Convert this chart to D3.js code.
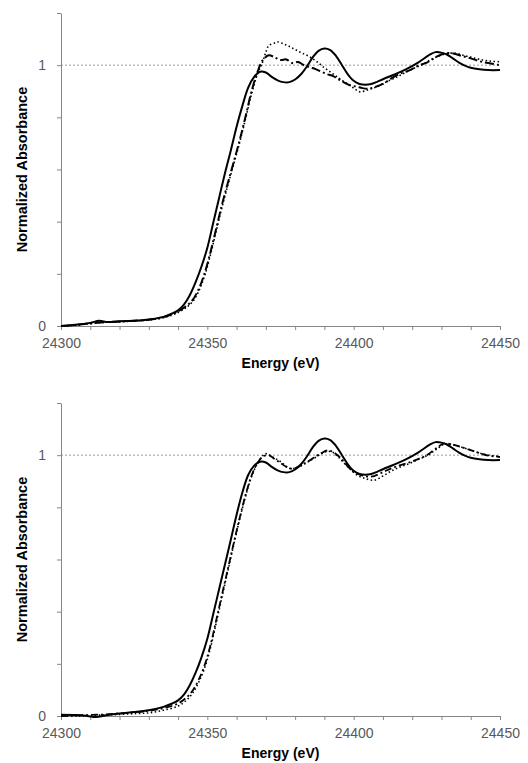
<!DOCTYPE html>
<html lang="en">
<head>
    <meta charset="utf-8">
    <script src="https://cdn.jsdelivr.net/npm/d3@7"></script>
    <style type="text/css">
        body { margin: 0; background: white; }
        .axis path,
        .axis line {
            fill: none;
            stroke: #868686;
        }
        .axis text {
            font-family: "Liberation Sans", Arial, sans-serif;
            font-size: 14px;
            fill: #595959;
        }
        .title {
            font-family: "Liberation Sans", Arial, sans-serif;
            font-size: 14px;
            font-weight: bold;
            fill: black;
        }
    </style>
</head>
<body>
<script>
// [energy eV, normalized absorbance]
const topSolid = [
    [24300,0.000],[24305,0.005],[24310,0.012],[24313,0.020],[24316,0.015],[24320,0.018],
    [24325,0.020],[24330,0.025],[24335,0.035],[24338,0.048],[24340,0.060],[24342,0.082],
    [24344,0.118],[24346,0.168],[24348,0.228],[24350,0.300],[24352,0.395],[24354,0.490],
    [24356,0.585],[24358,0.672],[24360,0.764],[24362,0.845],[24364,0.915],[24366,0.955],
    [24368,0.975],[24370,0.972],[24372,0.955],[24374,0.942],[24376,0.935],[24378,0.935],
    [24380,0.945],[24382,0.965],[24384,0.995],[24386,1.030],[24388,1.055],[24390,1.064],
    [24392,1.058],[24394,1.035],[24396,1.000],[24398,0.965],[24400,0.940],[24402,0.928],
    [24404,0.925],[24406,0.928],[24408,0.936],[24410,0.946],[24414,0.965],[24418,0.985],
    [24422,1.010],[24426,1.040],[24428,1.050],[24430,1.048],[24432,1.040],[24434,1.025],
    [24436,1.010],[24438,0.998],[24440,0.990],[24443,0.984],[24446,0.981],[24450,0.981]
];
const topDashed = [
    [24300,0.000],[24305,0.004],[24310,0.010],[24315,0.015],[24320,0.017],[24325,0.020],
    [24330,0.024],[24335,0.034],[24340,0.056],[24343,0.078],[24345,0.100],[24347,0.140],
    [24349,0.200],[24351,0.280],[24353,0.372],[24355,0.465],[24357,0.548],[24359,0.628],
    [24361,0.710],[24363,0.800],[24365,0.895],[24367,0.970],[24369,1.020],[24371,1.038],
    [24373,1.030],[24375,1.020],[24377,1.022],[24379,1.008],[24381,1.012],[24383,1.000],
    [24385,0.992],[24387,0.985],[24389,0.975],[24391,0.965],[24393,0.958],[24395,0.945],
    [24397,0.932],[24399,0.922],[24401,0.918],[24403,0.912],[24405,0.910],[24407,0.915],
    [24410,0.928],[24413,0.950],[24416,0.968],[24419,0.980],[24422,0.998],[24425,1.010],
    [24428,1.030],[24431,1.045],[24434,1.045],[24437,1.035],[24440,1.026],[24443,1.015],
    [24446,1.008],[24450,1.000]
];
const topDotted = [
    [24302,0.000],[24306,0.004],[24310,0.009],[24315,0.014],[24320,0.016],[24325,0.019],
    [24330,0.023],[24335,0.032],[24340,0.052],[24343,0.073],[24345,0.094],[24347,0.132],
    [24349,0.190],[24351,0.270],[24353,0.362],[24355,0.455],[24357,0.540],[24359,0.620],
    [24361,0.702],[24363,0.792],[24365,0.885],[24367,0.962],[24369,1.015],[24370,1.050],
    [24371,1.075],[24373,1.085],[24374,1.089],[24376,1.082],[24378,1.072],[24380,1.060],
    [24382,1.048],[24384,1.038],[24386,1.025],[24388,1.008],[24390,0.990],[24392,0.974],
    [24394,0.958],[24396,0.942],[24398,0.928],[24400,0.912],[24402,0.898],[24404,0.902],
    [24406,0.910],[24408,0.917],[24411,0.935],[24414,0.950],[24417,0.968],[24420,0.985],
    [24423,1.000],[24426,1.019],[24429,1.035],[24432,1.045],[24435,1.045],[24438,1.036],
    [24441,1.028],[24444,1.020],[24447,1.015],[24450,1.013]
];

const bottomSolid = [
    [24300,0.005],[24305,0.004],[24309,0.000],[24312,-0.004],[24315,0.002],[24320,0.010],
    [24325,0.015],[24330,0.022],[24335,0.035],[24338,0.048],[24340,0.060],[24342,0.082],
    [24344,0.118],[24346,0.166],[24348,0.225],[24350,0.296],[24352,0.390],[24354,0.485],
    [24356,0.580],[24358,0.675],[24360,0.772],[24362,0.858],[24364,0.925],[24366,0.960],
    [24368,0.975],[24370,0.972],[24372,0.955],[24374,0.942],[24376,0.935],[24378,0.935],
    [24380,0.945],[24382,0.965],[24384,0.995],[24386,1.030],[24388,1.055],[24390,1.064],
    [24392,1.058],[24394,1.035],[24396,1.000],[24398,0.965],[24400,0.940],[24402,0.928],
    [24404,0.925],[24406,0.928],[24408,0.936],[24410,0.946],[24414,0.965],[24418,0.985],
    [24422,1.010],[24426,1.040],[24428,1.050],[24430,1.048],[24432,1.040],[24434,1.025],
    [24436,1.010],[24438,0.998],[24440,0.990],[24443,0.984],[24446,0.981],[24450,0.981]
];
const bottomDashDot = [
    [24300,0.000],[24305,0.002],[24310,0.004],[24315,0.006],[24320,0.010],[24325,0.014],
    [24330,0.020],[24335,0.030],[24340,0.048],[24343,0.072],[24345,0.098],[24347,0.138],
    [24349,0.192],[24351,0.268],[24353,0.365],[24355,0.465],[24357,0.563],[24359,0.662],
    [24361,0.757],[24363,0.845],[24365,0.918],[24367,0.968],[24369,0.995],[24371,1.000],
    [24373,0.985],[24375,0.970],[24377,0.955],[24379,0.948],[24381,0.955],[24383,0.968],
    [24385,0.980],[24387,0.995],[24389,1.008],[24391,1.018],[24393,1.012],[24395,0.995],
    [24397,0.970],[24399,0.945],[24401,0.930],[24403,0.922],[24405,0.918],[24407,0.920],
    [24410,0.935],[24413,0.950],[24416,0.962],[24419,0.972],[24422,0.985],[24425,1.000],
    [24428,1.025],[24431,1.045],[24434,1.040],[24437,1.030],[24440,1.019],[24443,1.008],
    [24446,0.998],[24450,0.993]
];
const bottomDotted = [
    [24302,0.000],[24306,0.000],[24310,0.002],[24315,0.004],[24320,0.006],[24325,0.009],
    [24330,0.012],[24335,0.022],[24340,0.038],[24343,0.062],[24345,0.088],[24347,0.128],
    [24349,0.182],[24351,0.258],[24353,0.355],[24355,0.456],[24357,0.556],[24359,0.656],
    [24361,0.752],[24363,0.840],[24365,0.914],[24367,0.966],[24369,0.998],[24370,1.006],
    [24372,0.995],[24375,0.975],[24378,0.950],[24380,0.950],[24383,0.965],[24386,0.985],
    [24389,1.005],[24391,1.015],[24393,1.010],[24395,0.990],[24398,0.955],[24401,0.925],
    [24404,0.910],[24407,0.904],[24410,0.920],[24413,0.940],[24416,0.955],[24419,0.968],
    [24422,0.983],[24425,0.998],[24428,1.020],[24431,1.042],[24434,1.040],[24437,1.030],
    [24440,1.020],[24443,1.008],[24446,1.000],[24450,0.995]
];

const xTickLabels = [24300, 24350, 24400, 24450];
const yTickLabels = [0, 1];

let w = 528;
let h = 763;
let svg = d3.select("body")
            .append("svg")
            .attr("width", w)
            .attr("height", h);

const drawPanel = (top, series) => {
    let left = 61;
    let right = 500;
    let plotTop = top + 13;
    let plotBottom = top + 326;

    let xScale = d3.scaleLinear()
                    .domain([24300, 24450])
                    .range([left, right]);
    let yScale = d3.scaleLinear()
                    .domain([0, 1.2])
                    .range([plotBottom, plotTop]);

    let g = svg.append("g");

    // dotted reference line at 1
    g.append("line")
        .attr("x1", xScale(24300))
        .attr("x2", xScale(24450))
        .attr("y1", yScale(1))
        .attr("y2", yScale(1))
        .attr("stroke", "#7f7f7f")
        .attr("stroke-width", 0.8)
        .attr("stroke-dasharray", "2,2");

    // x axis: minor ticks every 10 eV, labels every 50
    let xAxis = d3.axisBottom(xScale)
                    .tickValues(d3.range(24300, 24451, 10))
                    .tickSize(4)
                    .tickSizeOuter(0)
                    .tickPadding(8)
                    .tickFormat((d) => xTickLabels.includes(d) ? d : "");
    g.append("g")
        .attr("class", "axis")
        .attr("transform", "translate(0, " + plotBottom + ")")
        .call(xAxis);

    let yAxis = d3.axisLeft(yScale)
                    .tickValues([0, 0.2, 0.4, 0.6, 0.8, 1, 1.2])
                    .tickSize(4)
                    .tickSizeOuter(0)
                    .tickPadding(11)
                    .tickFormat((d) => yTickLabels.includes(d) ? d : "");
    g.append("g")
        .attr("class", "axis")
        .attr("transform", "translate(" + left + ", 0)")
        .call(yAxis);

    let line = d3.line()
                    .x((d) => xScale(d[0]))
                    .y((d) => yScale(d[1]))
                    .curve(d3.curveCatmullRom);

    series.forEach((s) => {
        g.append("path")
            .datum(s.data)
            .attr("d", line)
            .attr("fill", "none")
            .attr("stroke", "black")
            .attr("stroke-width", s.width)
            .attr("stroke-dasharray", s.dash);
    });

    g.append("text")
        .attr("class", "title")
        .attr("x", (left + right) / 2)
        .attr("y", top + 368)
        .attr("text-anchor", "middle")
        .text("Energy (eV)");

    g.append("text")
        .attr("class", "title")
        .attr("transform", "translate(27, " + ((plotTop + plotBottom) / 2) + ") rotate(-90)")
        .attr("text-anchor", "middle")
        .style("font-size", "14.5px")
        .text("Normalized Absorbance");
};

drawPanel(0, [
    {data: topDotted, width: 1.6, dash: "1.5,2.5"},
    {data: topDashed, width: 2, dash: "9,3,2,3"},
    {data: topSolid, width: 2, dash: null}
]);

drawPanel(390, [
    {data: bottomDotted, width: 1.6, dash: "1.5,2.5"},
    {data: bottomDashDot, width: 1.8, dash: "7,3,2,3"},
    {data: bottomSolid, width: 2, dash: null}
]);
</script>
</body>
</html>
